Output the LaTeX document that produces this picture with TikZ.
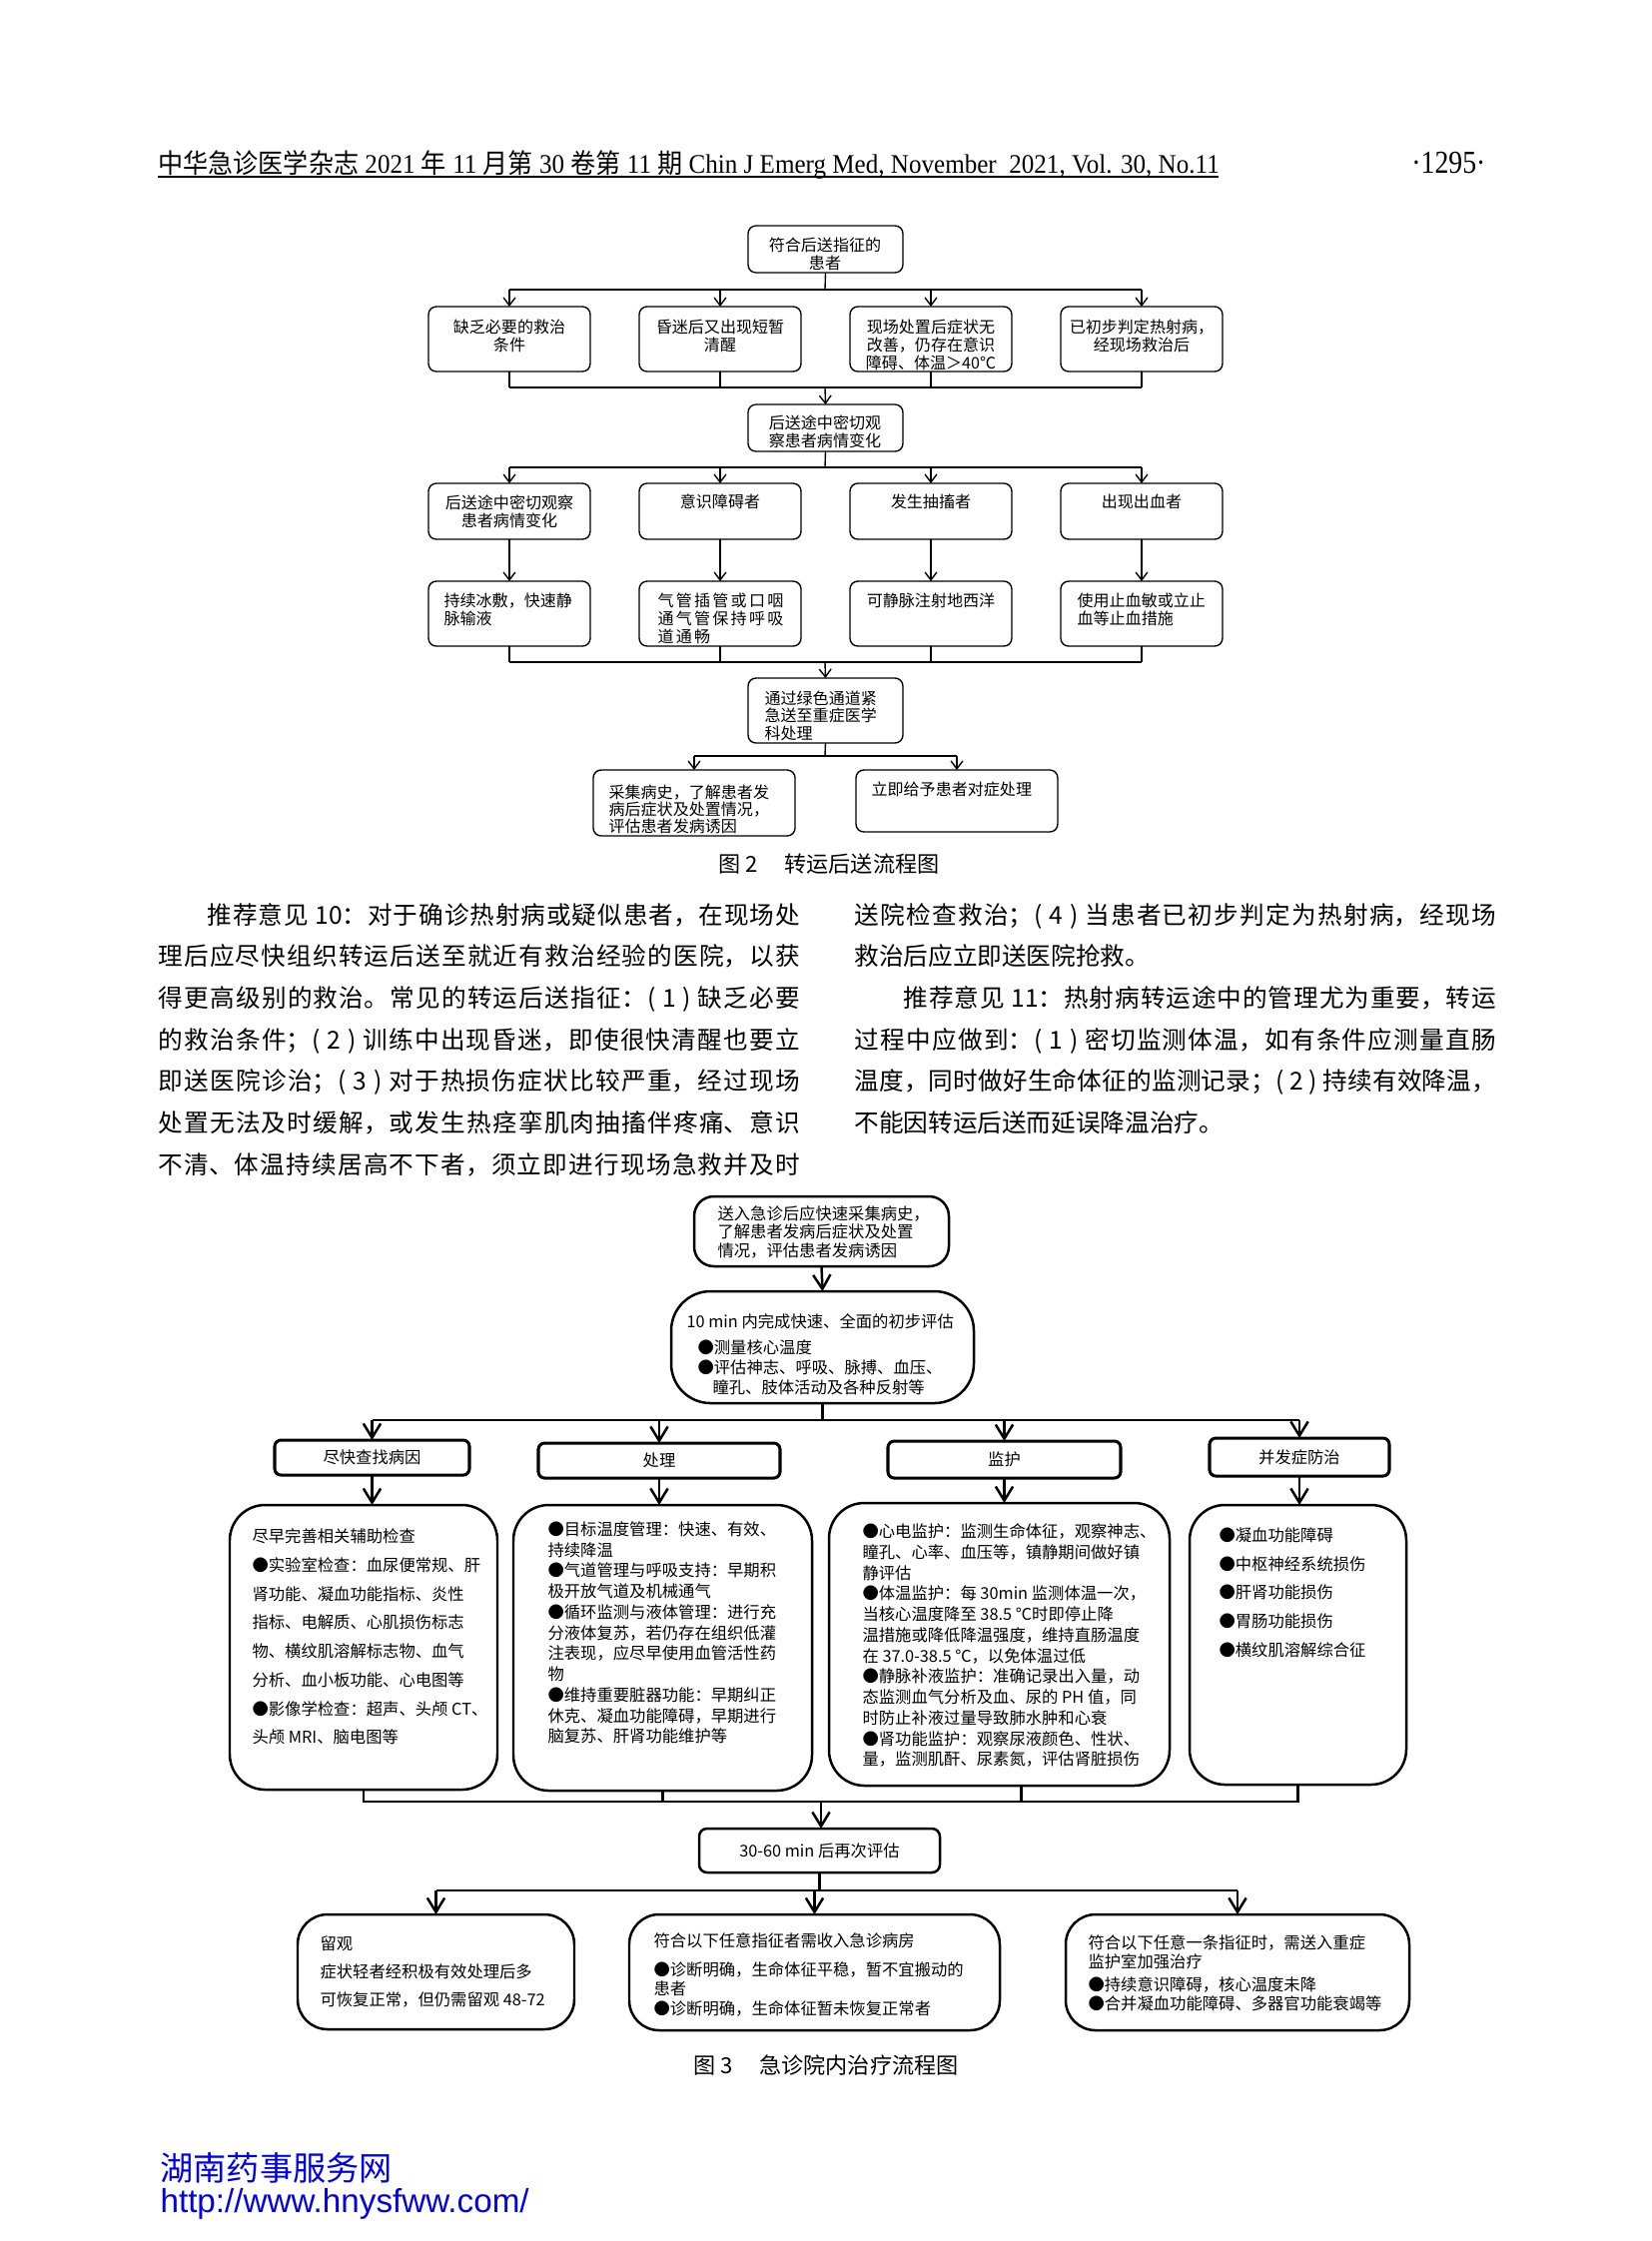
\documentclass[tikz,border=0pt]{standalone}
\usepackage{fontspec}
\usepackage{graphicx}
\usepackage[dvipsnames]{xcolor}
\usepackage{tikz}
\usetikzlibrary{arrows.meta}
\setmainfont{Liberation Serif}
\newfontfamily\cjk{Noto Sans CJK SC}
\newfontfamily\cjkwide[LetterSpace=14]{Noto Sans CJK SC}
\newfontfamily\webfont{Liberation Sans}
\definecolor{webblue}{RGB}{0,0,235}
\XeTeXlinebreaklocale "zh"
\XeTeXlinebreakskip=0pt plus 1pt

% box from its corners, in pixels of the page
\newcommand{\flowbox}[6][]{\node[#1, minimum width={(#5-#3)*0.127mm}, minimum height={(#6-#4)*0.127mm}] (#2) at ({(#3+#5)/2},{(#4+#6)/2}) {};}
% one justified line of the body text
\newcommand{\jline}[1]{\parbox[t]{81.6mm}{\tolerance=10000\parfillskip=0pt\relax #1\par}}

\tikzset{
  boxa/.style={draw, rounded corners=1mm, line width=0.5pt, inner sep=0pt, outer sep=0pt},
  lina/.style={line width=0.5pt},
  arra/.style={lina, -{Straight Barb[length=1mm,width=1.5mm]}},
  txta/.style={inner sep=0pt, align=center, anchor=north, font={\cjk\fontsize{5.8pt}{6.5pt}\selectfont}},
  txtl/.style={txta, align=left, anchor=north west},
  boxh/.style={draw, rounded corners=0.8mm, line width=1.1pt, inner sep=0pt, outer sep=0pt},
  boxr/.style={draw, rounded corners=4.5mm, line width=0.9pt, inner sep=0pt, outer sep=0pt},
  linc/.style={line width=0.9pt},
  arrc/.style={linc, -{Straight Barb[length=1.8mm,width=2.2mm]}},
  txtc/.style={inner sep=0pt, align=left, anchor=north west, font={\cjk\fontsize{5.9pt}{7.5pt}\selectfont}},
  txtw/.style={txtc, font={\cjk\fontsize{5.9pt}{10.4pt}\selectfont}},
  pline/.style={inner sep=0pt, anchor=base west, font={\cjk\fontsize{8.9pt}{15pt}\selectfont}},
  capt/.style={inner sep=0pt, font={\cjk\fontsize{8pt}{8pt}\selectfont}},
}

\begin{document}
\begin{tikzpicture}[x=0.127mm, y=-0.127mm]
\useasboundingbox (0,0) rectangle (1654,2244);
%
% running head
\node[anchor=base west, inner sep=0pt] (head) at (158,173) {\resizebox{134.9mm}{2.9mm}{{\cjk 中华急诊医学杂志} 2021 {\cjk 年} 11 {\cjk 月第} 30 {\cjk 卷第} 11 {\cjk 期} Chin J Emerg Med, November\ \ 2021, Vol. 30, No.11}};
\node[anchor=base east, inner sep=0pt] (pageno) at (1488,173) {\resizebox{9.4mm}{2.7mm}{·1295·}};
\coordinate (rulel) at (158,177);
\coordinate (ruler) at (1220,177);
\draw[line width=0.7pt] (rulel) -- (ruler);
%
% figure 2
\flowbox[boxa]{elig}{749}{226}{904}{273}
\node[txta] (elig-t) at (826,237) {符合后送指征的\\患者};
\flowbox[boxa]{ra}{429}{307}{591}{372}
\flowbox[boxa]{rb}{640}{307}{802}{372}
\flowbox[boxa]{rc}{851}{307}{1013}{372}
\flowbox[boxa]{rd}{1062}{307}{1224}{372}
\node[txta] (ra-t) at (510,319) {缺乏必要的救治\\条件};
\node[txta] (rb-t) at (721,319) {昏迷后又出现短暂\\清醒};
\node[txta] (rc-t) at (932,319) {现场处置后症状无\\改善，仍存在意识\\障碍、体温＞40℃};
\node[txta] (rd-t) at (1143,319) {已初步判定热射病，\\经现场救治后};
\coordinate (j1) at (826,290);
\draw[lina] (elig.south) -- (j1);
\draw[lina] (ra.north |- j1) -- (rd.north |- j1);
\foreach \n in {ra,rb,rc,rd} \draw[arra] (\n.north |- j1) -- (\n.north);
%
\flowbox[boxa]{watch2}{749}{405}{904}{452}
\node[txta] (watch2-t) at (826,415) {后送途中密切观\\察患者病情变化};
\coordinate (j2) at (826,388);
\foreach \n in {ra,rb,rc,rd} \draw[lina] (\n.south) -- (\n.south |- j2);
\draw[lina] (ra.south |- j2) -- (rd.south |- j2);
\draw[arra] (j2) -- (watch2.north);
%
\flowbox[boxa]{sa}{429}{484}{591}{540}
\flowbox[boxa]{sb}{640}{484}{802}{540}
\flowbox[boxa]{sc}{851}{484}{1013}{540}
\flowbox[boxa]{sd}{1062}{484}{1224}{540}
\node[txta] (sa-t) at (510,495) {后送途中密切观察\\患者病情变化};
\node[txta] (sb-t) at (721,494) {意识障碍者};
\node[txta] (sc-t) at (932,494) {发生抽搐者};
\node[txta] (sd-t) at (1143,494) {出现出血者};
\coordinate (j3) at (826,468);
\draw[lina] (watch2.south) -- (j3);
\draw[lina] (sa.north |- j3) -- (sd.north |- j3);
\foreach \n in {sa,sb,sc,sd} \draw[arra] (\n.north |- j3) -- (\n.north);
%
\flowbox[boxa]{ta}{429}{582}{591}{647}
\flowbox[boxa]{tb}{640}{582}{802}{647}
\flowbox[boxa]{tc}{851}{582}{1013}{647}
\flowbox[boxa]{td}{1062}{582}{1224}{647}
\node[txtl] (ta-t) at (444,593) {持续冰敷，快速静\\脉输液};
\node[txtl, font={\cjkwide\fontsize{5.8pt}{6.6pt}\selectfont}] (tb-t) at (658,593) {气管插管或口咽\\通气管保持呼吸\\道通畅};
\node[txta] (tc-t) at (932,593) {可静脉注射地西洋};
\node[txtl] (td-t) at (1078,593) {使用止血敏或立止\\血等止血措施};
\foreach \n/\m in {sa/ta,sb/tb,sc/tc,sd/td} \draw[arra] (\n.south) -- (\m.north);
%
\flowbox[boxa]{green}{749}{679}{904}{744}
\node[txtl, font={\cjk\fontsize{5.8pt}{6.4pt}\selectfont}] (green-t) at (765,691) {通过绿色通道紧\\急送至重症医学\\科处理};
\coordinate (j4) at (826,663);
\foreach \n in {ta,tb,tc,td} \draw[lina] (\n.south) -- (\n.south |- j4);
\draw[lina] (ta.south |- j4) -- (td.south |- j4);
\draw[arra] (j4) -- (green.north);
%
\flowbox[boxa]{hist}{594}{771}{796}{837}
\flowbox[boxa]{symp}{857}{771}{1059}{833}
\node[txtl, font={\cjk\fontsize{5.8pt}{6.3pt}\selectfont}] (hist-t) at (609,785) {采集病史，了解患者发\\病后症状及处置情况，\\评估患者发病诱因};
\node[txtl] (symp-t) at (872,782) {立即给予患者对症处理};
\coordinate (j5) at (826,757);
\draw[lina] (green.south) -- (j5);
\draw[lina] (hist.north |- j5) -- (symp.north |- j5);
\foreach \n in {hist,symp} \draw[arra] (\n.north |- j5) -- (\n.north);
\node[capt] (cap2) at (830,865) {图 2\hspace{1.2em}转运后送流程图};
%
% body text
\node[pline] (p1) at (158,925) {\jline{\hspace*{2em}推荐意见 10：对于确诊热射病或疑似患者，在现场处}};
\node[pline] (p2) at (158,966.7) {\jline{理后应尽快组织转运后送至就近有救治经验的医院，以获}};
\node[pline] (p3) at (158,1008.4) {\jline{得更高级别的救治。常见的转运后送指征：( 1 ) 缺乏必要}};
\node[pline] (p4) at (158,1050.1) {\jline{的救治条件；( 2 ) 训练中出现昏迷，即使很快清醒也要立}};
\node[pline] (p5) at (158,1091.8) {\jline{即送医院诊治；( 3 ) 对于热损伤症状比较严重，经过现场}};
\node[pline] (p6) at (158,1133.5) {\jline{处置无法及时缓解，或发生热痉挛肌肉抽搐伴疼痛、意识}};
\node[pline] (p7) at (158,1175.2) {\jline{不清、体温持续居高不下者，须立即进行现场急救并及时}};
\node[pline] (q1) at (855,925) {\jline{送院检查救治；( 4 ) 当患者已初步判定为热射病，经现场}};
\node[pline] (q2) at (855,966.7) {救治后应立即送医院抢救。};
\node[pline] (q3) at (855,1008.4) {\jline{\hspace*{2em}推荐意见 11：热射病转运途中的管理尤为重要，转运}};
\node[pline] (q4) at (855,1050.1) {\jline{过程中应做到：( 1 ) 密切监测体温，如有条件应测量直肠}};
\node[pline] (q5) at (855,1091.8) {\jline{温度，同时做好生命体征的监测记录；( 2 ) 持续有效降温，}};
\node[pline] (q6) at (855,1133.5) {不能因转运后送而延误降温治疗。};
%
% figure 3
\flowbox[boxr, rounded corners=2.5mm]{adm}{695}{1198}{950}{1268}
\node[txtc, font={\cjk\fontsize{5.9pt}{6.7pt}\selectfont}] (adm-t) at (718,1207) {送入急诊后应快速采集病史，\\了解患者发病后症状及处置\\情况，评估患者发病诱因};
\flowbox[boxr, rounded corners=5mm]{init}{672}{1293}{975}{1405}
\node[txtc, font={\cjk\fontsize{5.9pt}{7.2pt}\selectfont}] (init-t) at (687,1315) {10 min 内完成快速、全面的初步评估\\[0.8mm]\hspace*{1.4mm}●测量核心温度\\\hspace*{1.4mm}●评估神志、呼吸、脉搏、血压、\\\hspace*{3.3mm}瞳孔、肢体活动及各种反射等};
\draw[arrc] (adm.south) -- (init.north);
%
\flowbox[boxh]{cause}{275}{1442}{470}{1477}
\flowbox[boxh]{treat}{539}{1445}{781}{1480}
\flowbox[boxh]{moni}{889}{1443}{1122}{1480}
\flowbox[boxh]{comp}{1211}{1440}{1391}{1478}
\node[txta, anchor=center, font={\cjk\fontsize{5.9pt}{7pt}\selectfont}] (cause-t) at (cause) {尽快查找病因};
\node[txta, anchor=center, font={\cjk\fontsize{5.9pt}{7pt}\selectfont}] (treat-t) at (treat) {处理};
\node[txta, anchor=center, font={\cjk\fontsize{5.9pt}{7pt}\selectfont}] (moni-t) at (moni) {监护};
\node[txta, anchor=center, font={\cjk\fontsize{5.9pt}{7pt}\selectfont}] (comp-t) at (comp) {并发症防治};
\coordinate (j6) at (822,1422);
\draw[linc] (init.south) -- (init.south |- j6);
\draw[linc] (cause.north |- j6) -- (comp.north |- j6);
\foreach \n in {cause,treat,moni,comp} \draw[arrc] (\n.north |- j6) -- (\n.north);
%
\flowbox[boxr]{exam}{230}{1507}{498}{1792}
\flowbox[boxr]{proc}{514}{1507}{813}{1793}
\flowbox[boxr]{watch}{830}{1505}{1171}{1788}
\flowbox[boxr]{prev}{1191}{1507}{1408}{1787}
\draw[arrc] (cause.south) -- (cause.south |- exam.north);
\draw[arrc] (treat.south) -- (treat.south |- proc.north);
\draw[arrc] (moni.south) -- (moni.south |- watch.north);
\draw[arrc] (comp.south) -- (comp.south |- prev.north);
\node[txtw] (exam-t) at (252,1530) {尽早完善相关辅助检查\\●实验室检查：血尿便常规、肝\\肾功能、凝血功能指标、炎性\\指标、电解质、心肌损伤标志\\物、横纹肌溶解标志物、血气\\分析、血小板功能、心电图等\\●影像学检查：超声、头颅 CT、\\头颅 MRI、脑电图等};
\node[txtc] (proc-t) at (548,1523) {●目标温度管理：快速、有效、\\持续降温\\●气道管理与呼吸支持：早期积\\极开放气道及机械通气\\●循环监测与液体管理：进行充\\分液体复苏，若仍存在组织低灌\\注表现，应尽早使用血管活性药\\物\\●维持重要脏器功能：早期纠正\\休克、凝血功能障碍，早期进行\\脑复苏、肝肾功能维护等};
\node[txtc] (watch-t) at (863,1525) {●心电监护：监测生命体征，观察神志、\\瞳孔、心率、血压等，镇静期间做好镇\\静评估\\●体温监护：每 30min 监测体温一次，\\当核心温度降至 38.5 ℃时即停止降\\温措施或降低降温强度，维持直肠温度\\在 37.0-38.5 ℃，以免体温过低\\●静脉补液监护：准确记录出入量，动\\态监测血气分析及血、尿的 PH 值，同\\时防止补液过量导致肺水肿和心衰\\●肾功能监护：观察尿液颜色、性状、\\量，监测肌酐、尿素氮，评估肾脏损伤};
\node[txtw] (prev-t) at (1220,1529) {●凝血功能障碍\\●中枢神经系统损伤\\●肝肾功能损伤\\●胃肠功能损伤\\●横纹肌溶解综合征};
%
\coordinate (j7) at (822,1804);
\draw[linc] (exam.south) |- (j7) -| (prev.south);
\draw[linc] (proc.south) -- (proc.south |- j7);
\draw[linc] ([xshift=2.8mm]watch.south) -- ([xshift=2.8mm]watch.south |- j7);
\flowbox[boxh, rounded corners=1mm, line width=0.9pt]{again}{700}{1831}{941}{1875}
\node[txta, anchor=center, font={\cjk\fontsize{5.9pt}{7pt}\selectfont}] (again-t) at (again) {30-60 min 后再次评估};
\draw[arrc] (j7) -- (j7 |- again.north);
%
\flowbox[boxr, rounded corners=3.8mm]{obs}{298}{1917}{575}{2032}
\flowbox[boxr, rounded corners=3.8mm]{ward}{630}{1917}{1001}{2033}
\flowbox[boxr, rounded corners=3.8mm]{icu}{1067}{1917}{1411}{2033}
\coordinate (j8) at (822,1893);
\draw[linc] (again.south) -- (again.south |- j8);
\draw[linc] (obs.north |- j8) -- (icu.north |- j8);
\foreach \n in {obs,ward,icu} \draw[arrc] (\n.north |- j8) -- (\n.north);
\node[txtc, font={\cjk\fontsize{5.9pt}{10.1pt}\selectfont}] (obs-t) at (320,1938) {留观\\症状轻者经积极有效处理后多\\可恢复正常，但仍需留观 48-72};
\node[txtc, font={\cjk\fontsize{5.9pt}{7.2pt}\selectfont}] (ward-t) at (654,1935) {符合以下任意指征者需收入急诊病房\\[1.1mm]●诊断明确，生命体征平稳，暂不宜搬动的\\患者\\●诊断明确，生命体征暂未恢复正常者};
\node[txtc, font={\cjk\fontsize{5.9pt}{7pt}\selectfont}] (icu-t) at (1089,1937) {符合以下任意一条指征时，需送入重症\\监护室加强治疗\\[0.4mm]●持续意识障碍，核心温度未降\\●合并凝血功能障碍、多器官功能衰竭等};
\node[capt] (cap3) at (827,2068) {图 3\hspace{1.2em}急诊院内治疗流程图};
%
% footer
\node[anchor=west, inner sep=0pt, text=webblue, font={\cjk\fontsize{12pt}{12pt}\selectfont}] (site) at (160,2171) {湖南药事服务网};
\node[anchor=base west, inner sep=0pt, text=webblue, font={\webfont\fontsize{12pt}{12pt}\selectfont}] (url) at (160,2215) {http://www.hnysfww.com/};
\end{tikzpicture}
\end{document}
